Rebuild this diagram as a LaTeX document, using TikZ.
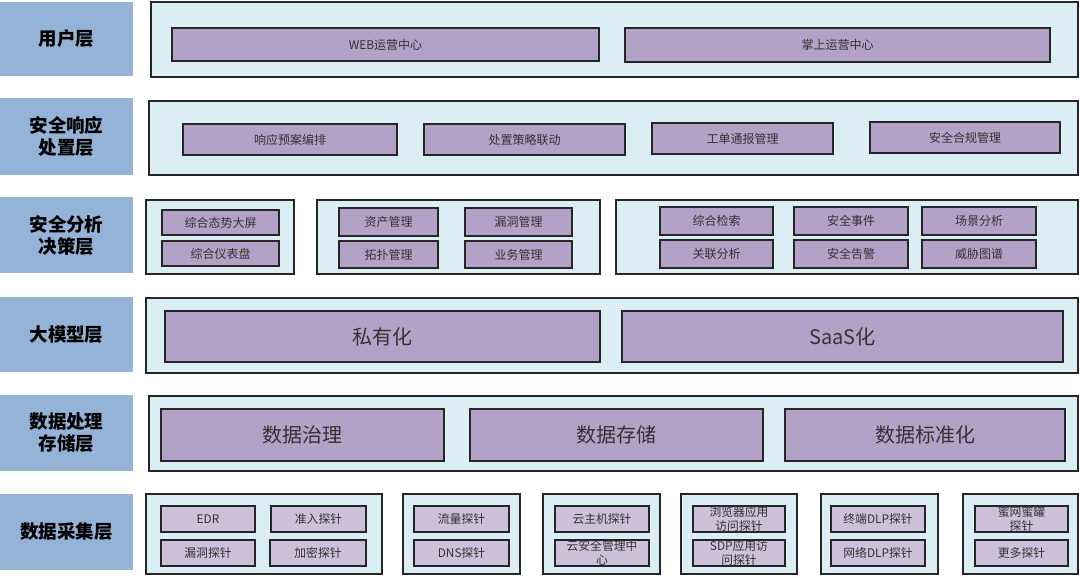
\documentclass[tikz,border=0pt]{standalone}
\usepackage{fontspec}
\setmainfont{Noto Sans CJK SC}
\definecolor{lbl}{HTML}{95B3D7}
\definecolor{cont}{HTML}{DAEEF3}
\definecolor{pur}{HTML}{B2A2C7}
\definecolor{lpur}{HTML}{CCC0DA}
\definecolor{txt}{HTML}{333333}
\tikzset{
 lab/.style={fill=lbl, draw=none, font=\fontsize{18.5}{22}\selectfont\bfseries, text=black, align=center},
 cbox/.style={fill=cont, draw=black!85, line width=1.3pt},
 ibox/.style={fill=pur, draw=black!85, line width=1.3pt, font=\fontsize{12}{13}\selectfont, text=txt, align=center},
 big/.style={ibox, font=\fontsize{20}{22}\selectfont},
 sbox/.style={ibox, fill=lpur, font=\fontsize{11.8}{13.5}\selectfont},
}
\newcommand{\mybox}[7]{\node[#2, rectangle, inner sep=0pt, outer sep=0pt, minimum width={#5-#3}, minimum height={#6-#4}] (#1) at ({(#3+#5)/2},{(#4+#6)/2}) {#7};}
\begin{document}
\begin{tikzpicture}[x=1pt,y=-1pt]
\useasboundingbox (0,0) rectangle (1080,578);
% labels
\mybox{L1}{lab}{0}{2}{133}{76}{用户层}
\mybox{L2}{lab}{0}{98}{133}{175}{安全响应\\处置层}
\mybox{L3}{lab}{0}{197}{133}{273}{安全分析\\决策层}
\mybox{L4}{lab}{0}{297}{133}{372}{大模型层}
\mybox{L5}{lab}{0}{395}{133}{471}{数据处理\\存储层}
\mybox{L6}{lab}{0}{494}{133}{570}{数据采集层}
% row 1
\mybox{C1}{cbox}{151}{2}{1078}{77}{}
\mybox{web}{ibox}{172}{28}{599}{61}{WEB运营中心}
\mybox{zs}{ibox}{625}{28}{1050}{62}{掌上运营中心}
% row 2
\mybox{C2}{cbox}{149}{101}{1078}{175}{}
\mybox{xy}{ibox}{183}{124}{397}{155}{响应预案编排}
\mybox{cz}{ibox}{424}{124}{625}{155}{处置策略联动}
\mybox{gd}{ibox}{652}{123}{833}{154}{工单通报管理}
\mybox{hg}{ibox}{870}{122}{1060}{153}{安全合规管理}
% row 3
\mybox{C3a}{cbox}{146}{200}{294}{274}{}
\mybox{zh1}{ibox}{162}{210}{279}{235}{综合态势大屏}
\mybox{zh2}{ibox}{162}{241}{279}{266}{综合仪表盘}
\mybox{C3b}{cbox}{317}{200}{600}{274}{}
\mybox{zc}{ibox}{339}{208}{438}{236}{资产管理}
\mybox{ld}{ibox}{465}{208}{572}{236}{漏洞管理}
\mybox{tp}{ibox}{339}{241}{438}{268}{拓扑管理}
\mybox{yw}{ibox}{465}{241}{572}{268}{业务管理}
\mybox{C3c}{cbox}{616}{200}{1078}{274}{}
\mybox{js}{ibox}{660}{207}{773}{235}{综合检索}
\mybox{sj}{ibox}{794}{207}{908}{235}{安全事件}
\mybox{cj}{ibox}{922}{207}{1036}{235}{场景分析}
\mybox{gl}{ibox}{660}{240}{773}{268}{关联分析}
\mybox{gj}{ibox}{794}{240}{908}{268}{安全告警}
\mybox{wx}{ibox}{922}{240}{1036}{268}{威胁图谱}
% row 4
\mybox{C4}{cbox}{146}{298}{1078}{373}{}
\mybox{sy}{big}{165}{311}{600}{362}{私有化}
\mybox{saas}{big}{622}{311}{1063}{362}{SaaS化}
% row 5
\mybox{C5}{cbox}{149}{396}{1078}{471}{}
\mybox{zl}{big}{161}{409}{444}{461}{数据治理}
\mybox{cc}{big}{470}{409}{763}{461}{数据存储}
\mybox{bz}{big}{785}{409}{1065}{461}{数据标准化}
% row 6
\mybox{D1}{cbox}{146}{494}{382}{574}{}
\mybox{edr}{sbox}{161}{506}{255}{532}{EDR}
\mybox{zr}{sbox}{271}{506}{366}{532}{准入探针}
\mybox{ldt}{sbox}{161}{540}{255}{566}{漏洞探针}
\mybox{jm}{sbox}{270}{540}{366}{566}{加密探针}
\mybox{D2}{cbox}{403}{494}{520}{574}{}
\mybox{ll}{sbox}{414}{506}{509}{532}{流量探针}
\mybox{dns}{sbox}{414}{540}{509}{566}{DNS探针}
\mybox{D3}{cbox}{543}{494}{660}{574}{}
\mybox{yzj}{sbox}{555}{506}{649}{532}{云主机探针}
\mybox{yaq}{sbox}{555}{540}{649}{566}{云安全管理中\\心}
\mybox{D4}{cbox}{681}{494}{797}{574}{}
\mybox{llq}{sbox}{693}{506}{785}{532}{浏览器应用\\访问探针}
\mybox{sdp}{sbox}{693}{540}{785}{566}{SDP应用访\\问探针}
\mybox{D5}{cbox}{821}{494}{938}{574}{}
\mybox{zd}{sbox}{831}{506}{925}{532}{终端DLP探针}
\mybox{wl}{sbox}{831}{540}{925}{566}{网络DLP探针}
\mybox{D6}{cbox}{963}{494}{1078}{574}{}
\mybox{fw}{sbox}{975}{506}{1068}{532}{蜜网蜜罐\\探针}
\mybox{gd2}{sbox}{975}{540}{1068}{566}{更多探针}
\end{tikzpicture}
\end{document}
